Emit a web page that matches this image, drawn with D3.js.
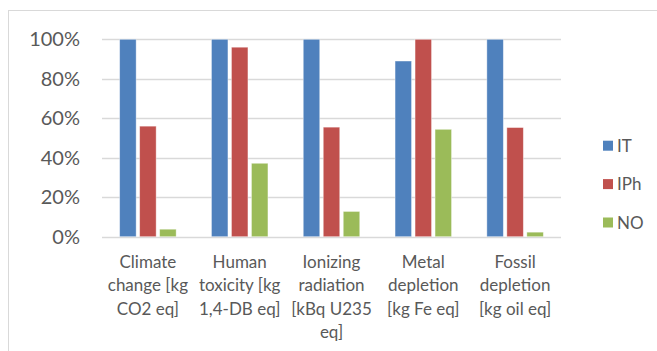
<!DOCTYPE html>
<html><head><meta charset="utf-8">
<script src="https://cdn.jsdelivr.net/npm/d3@7"></script>
<style>body{margin:0;background:#fff}svg{display:block}</style>
</head><body><svg id="c" width="657" height="351"></svg>
<script>
const categories = [
  ["Climate","change [kg","CO2 eq]"],
  ["Human","toxicity [kg","1,4-DB eq]"],
  ["Ionizing","radiation","[kBq U235","eq]"],
  ["Metal","depletion","[kg Fe eq]"],
  ["Fossil","depletion","[kg oil eq]"]
];
const seriesNames = ["IT","IPh","NO"];
const seriesColors = ["#4f81bd","#c0504d","#9bbb59"];
const IT  = [100, 100, 100, 89, 100];
const IPh = [56, 96, 55.5, 100, 55.3];
const NO  = [3.8, 37.2, 12.8, 54.4, 2.3];
const yTicks = [0,20,40,60,80,100];

(function(){
const values = [IT, IPh, NO];
const svg = d3.select("#c");
const font = "Lato, 'Open Sans', sans-serif";

svg.append("rect").attr("x",8.5).attr("y",10.5).attr("width",700).attr("height",400)
  .attr("fill","none").attr("stroke","#d9d9d9").attr("stroke-width",1);

const pLeft = 102, pRight = 561, pTop = 39.3, pBottom = 236.7;
const x = d3.scaleBand().domain(d3.range(categories.length)).range([pLeft,pRight]);
const y = d3.scaleLinear().domain([0,100]).range([pBottom,pTop]);

const yAxis = svg.append("g").attr("transform",`translate(${pLeft},0)`)
  .call(d3.axisLeft(y).tickValues(yTicks).tickFormat(d=>d+"%").tickSize(0).tickPadding(22));
yAxis.select(".domain").remove();
yAxis.selectAll("text").attr("font-family",font).attr("font-size",20).attr("fill","#595959");

svg.append("g").selectAll("line").data(yTicks).join("line")
  .attr("x1",pLeft).attr("x2",pRight).attr("y1",d=>Math.round(y(d))+0.5).attr("y2",d=>Math.round(y(d))+0.5)
  .attr("stroke","#d9d9d9").attr("stroke-width",1.3);

const barW = 16.5, step = 20;
const inner = d3.scaleBand().domain(d3.range(3)).range([-step*1.5, step*1.5]);
seriesNames.forEach((s,si)=>{
  svg.append("g").selectAll("rect").data(values[si]).join("rect")
    .attr("x",(d,i)=>x(i)+x.bandwidth()/2+inner(si)+(step-barW)/2)
    .attr("width",barW)
    .attr("y",d=>y(d))
    .attr("height",d=>y(0)-y(d))
    .attr("fill",seriesColors[si])
    .attr("stroke","#fff").attr("stroke-opacity",0.5).attr("stroke-width",0.8);
});

const xl = svg.append("g");
categories.forEach((lines,i)=>{
  const t = xl.append("text").attr("font-family",font).attr("font-size",17).attr("fill","#595959")
    .attr("text-anchor","middle");
  lines.forEach((ln,j)=>{
    t.append("tspan").attr("x",x(i)+x.bandwidth()/2).attr("y",268+j*23.3).text(ln);
  });
});

const leg = svg.append("g");
seriesNames.forEach((s,si)=>{
  const cy = 145.7 + si*38.4;
  leg.append("rect").attr("x",603).attr("y",cy-5).attr("width",10).attr("height",10).attr("fill",seriesColors[si]);
  leg.append("text").attr("x",617).attr("y",cy+6).attr("font-family",font).attr("font-size",17)
    .attr("fill","#595959").text(s);
});
})();
</script></body></html>
